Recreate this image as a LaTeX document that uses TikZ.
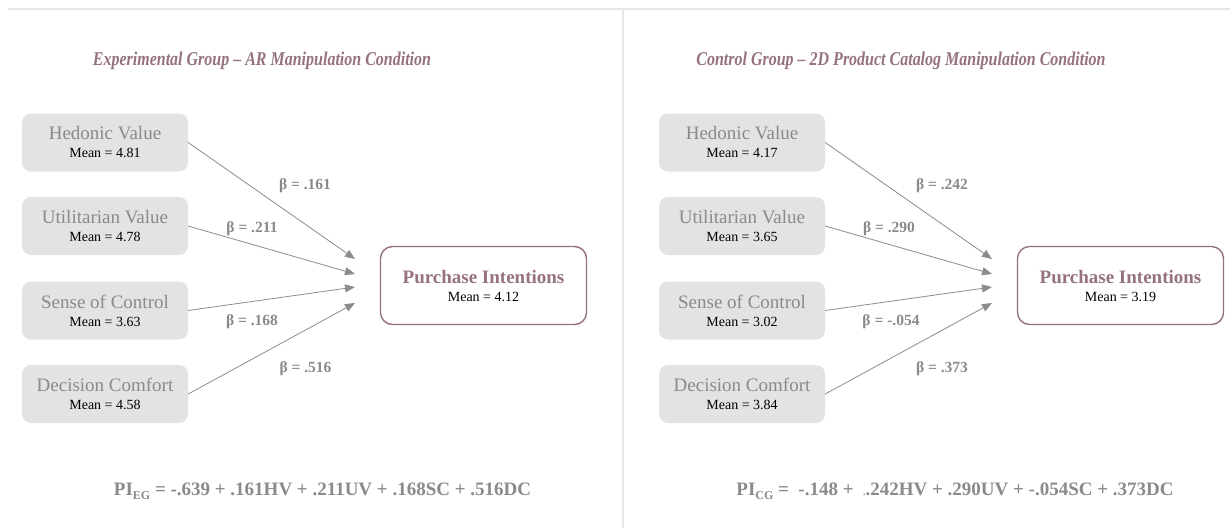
\documentclass[tikz,border=0pt]{standalone}
\usepackage{fontspec}
\setmainfont{Liberation Serif}
\newfontfamily\titlefont[FakeStretch=0.82,Ligatures=TeX]{Liberation Serif}
\usetikzlibrary{arrows.meta}

\definecolor{mauve}{HTML}{957181}
\definecolor{boxgray}{HTML}{E3E3E3}
\definecolor{labelgray}{HTML}{8A8A8A}
\definecolor{linegray}{HTML}{8C8C8C}
\definecolor{rulegray}{HTML}{E6E6E6}

\newcommand{\boxlbl}[1]{{\fontsize{19}{18}\selectfont\color{labelgray}#1}}
\newcommand{\meanlbl}[1]{{\color{black}#1}}
\newcommand{\sublbl}[1]{\raisebox{-4pt}{\fontsize{12}{12}\selectfont #1}}

\tikzset{
  srcbox/.style={rectangle, rounded corners=9pt, fill=boxgray, draw=none,
    minimum width=166pt, minimum height=58pt, inner sep=0pt, align=center,
    font=\fontsize{14}{18}\selectfont},
  outbox/.style={rectangle, rounded corners=12pt, fill=white, draw=mauve, line width=1.4pt,
    minimum width=206pt, minimum height=78pt, inner sep=0pt, align=center,
    font=\fontsize{14}{18}\selectfont},
  pathline/.style={draw=linegray, line width=0.8pt, -{Triangle[length=10pt,width=8pt]}},
  betalbl/.style={anchor=base, inner sep=0pt, text=labelgray, font=\fontsize{15.5}{16}\selectfont\bfseries},
  grouptitle/.style={anchor=base, inner sep=0pt, text=mauve, font=\titlefont\fontsize{19.5}{20}\selectfont\bfseries\itshape},
  eqn/.style={anchor=base, inner sep=0pt, text=labelgray, font=\fontsize{19}{20}\selectfont\bfseries},
  divider/.style={draw=rulegray, line width=1.2pt}
}

\begin{document}
\begin{tikzpicture}[x=1pt, y=-1pt]
\useasboundingbox[fill=white] (0,0) rectangle (1230,528);

% frame rules between the two panels
\coordinate (ruleL) at (8,9);
\coordinate (ruleR) at (1230,9);
\coordinate (divTop) at (623,9);
\coordinate (divBot) at (623,528);
\draw[divider] (ruleL) -- (ruleR);
\draw[divider] (divTop) -- (divBot);

% ---------- experimental group ----------
\node[grouptitle] (titleEG) at (262,65) {Experimental Group – AR Manipulation Condition};

\node[srcbox] (hvEG) at (105,142.5) {\boxlbl{Hedonic Value}\\\meanlbl{Mean = 4.81}};
\node[srcbox] (uvEG) at (105,226)   {\boxlbl{Utilitarian Value}\\\meanlbl{Mean = 4.78}};
\node[srcbox] (scEG) at (105,310.5) {\boxlbl{Sense of Control}\\\meanlbl{Mean = 3.63}};
\node[srcbox] (dcEG) at (105,394)   {\boxlbl{Decision Comfort}\\\meanlbl{Mean = 4.58}};

\node[outbox] (piEG) at (483.5,285.5)
  {{\fontsize{19}{18}\selectfont\bfseries\color{mauve}Purchase Intentions}\\\meanlbl{Mean = 4.12}};

\coordinate (hvEGend) at (355,259);
\coordinate (uvEGend) at (355,274);
\coordinate (scEGend) at (355,287);
\coordinate (dcEGend) at (355,303);

\draw[pathline] (hvEG.east) -- (hvEGend);
\draw[pathline] (uvEG.east) -- (uvEGend);
\draw[pathline] (scEG.east) -- (scEGend);
\draw[pathline] (dcEG.east) -- (dcEGend);

\node[betalbl] (bhvEG) at (305,189)   {β = .161};
\node[betalbl] (buvEG) at (252,232.5) {β = .211};
\node[betalbl] (bscEG) at (252,325)   {β = .168};
\node[betalbl] (bdcEG) at (305.5,372.5) {β = .516};

\node[eqn] (eqEG) at (322.5,495)
  {PI\sublbl{EG} = -.639 + .161HV + .211UV + .168SC + .516DC};

% ---------- control group ----------
\node[grouptitle] (titleCG) at (901,65) {Control Group – 2D Product Catalog Manipulation Condition};

\node[srcbox] (hvCG) at (742,142.5) {\boxlbl{Hedonic Value}\\\meanlbl{Mean = 4.17}};
\node[srcbox] (uvCG) at (742,226)   {\boxlbl{Utilitarian Value}\\\meanlbl{Mean = 3.65}};
\node[srcbox] (scCG) at (742,310.5) {\boxlbl{Sense of Control}\\\meanlbl{Mean = 3.02}};
\node[srcbox] (dcCG) at (742,394)   {\boxlbl{Decision Comfort}\\\meanlbl{Mean = 3.84}};

\node[outbox] (piCG) at (1120.5,285.5)
  {{\fontsize{19}{18}\selectfont\bfseries\color{mauve}Purchase Intentions}\\\meanlbl{Mean = 3.19}};

\coordinate (hvCGend) at (992,259);
\coordinate (uvCGend) at (992,274);
\coordinate (scCGend) at (992,287);
\coordinate (dcCGend) at (992,303);

\draw[pathline] (hvCG.east) -- (hvCGend);
\draw[pathline] (uvCG.east) -- (uvCGend);
\draw[pathline] (scCG.east) -- (scCGend);
\draw[pathline] (dcCG.east) -- (dcCGend);

\node[betalbl] (bhvCG) at (942,189)   {β = .242};
\node[betalbl] (buvCG) at (889,232.5) {β = .290};
\node[betalbl] (bscCG) at (891,325)   {β = -.054};
\node[betalbl] (bdcCG) at (942,372.5) {β = .373};

\node[eqn] (eqCG) at (955,495)
  {PI\sublbl{CG} =\ \ -.148 +\ \ {\fontsize{10}{10}\selectfont.}.242HV + .290UV + -.054SC + .373DC};
\end{tikzpicture}
\end{document}
